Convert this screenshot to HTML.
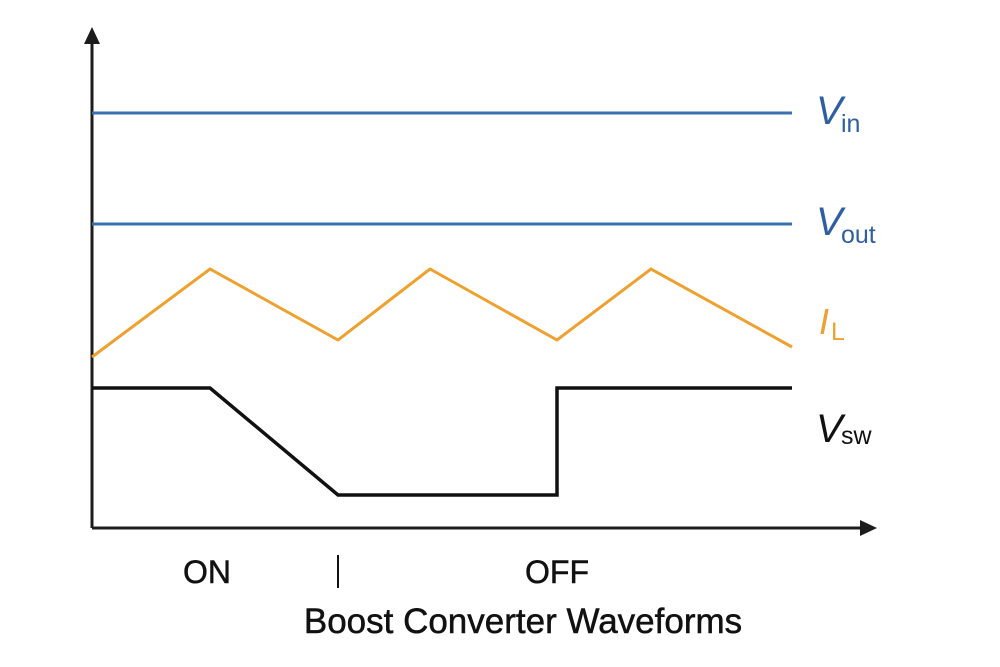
<!DOCTYPE html>
<html><head><style>body{margin:0;background:#fff}svg{display:block}text{font-family:"Liberation Sans",sans-serif}</style></head>
<body>
<svg width="1000" height="667" viewBox="0 0 1000 667">
<line x1="92" y1="528" x2="92" y2="42" stroke="#1c1c1c" stroke-width="3"/>
<polygon points="92,27 84,44 100,44" fill="#1c1c1c"/>
<line x1="92" y1="528" x2="862" y2="528" stroke="#1c1c1c" stroke-width="3"/>
<polygon points="877,528 860,520 860,536" fill="#1c1c1c"/>
<line x1="92" y1="113" x2="792" y2="113" stroke="#3a6fb0" stroke-width="3"/>
<line x1="92" y1="224" x2="792" y2="224" stroke="#3a6fb0" stroke-width="3"/>
<polyline points="92,357 210,269 338,340 430,269 557,340 651,269 792,347" fill="none" stroke="#eea12f" stroke-width="3"/>
<polyline points="92,388 210,388 338,495 557,495 557,388 792,388" fill="none" stroke="#111" stroke-width="3.5"/>
<text x="816" y="124" font-size="40" font-style="italic" fill="#2f5fa3">V</text><text x="841" y="132" font-size="25" fill="#2f5fa3">in</text>
<text x="816" y="235" font-size="40" font-style="italic" fill="#2f5fa3">V</text><text x="841" y="243" font-size="25" fill="#2f5fa3">out</text>
<text x="819" y="334" font-size="36" font-style="italic" fill="#eea12f">I</text><text x="831" y="340" font-size="25" fill="#eea12f">L</text>
<text x="816" y="442" font-size="40" font-style="italic" fill="#111">V</text><text x="841" y="444" font-size="25" fill="#111">sw</text>
<text x="207" y="583" font-size="32" text-anchor="middle" fill="#111" stroke="#111" stroke-width="0.5">ON</text>
<line x1="338" y1="555" x2="338" y2="588" stroke="#111" stroke-width="2"/>
<text x="557" y="583" font-size="32" text-anchor="middle" fill="#111" stroke="#111" stroke-width="0.5">OFF</text>
<text x="523" y="633" font-size="35" text-anchor="middle" fill="#111" stroke="#111" stroke-width="0.5">Boost Converter Waveforms</text>
</svg>
</body></html>
